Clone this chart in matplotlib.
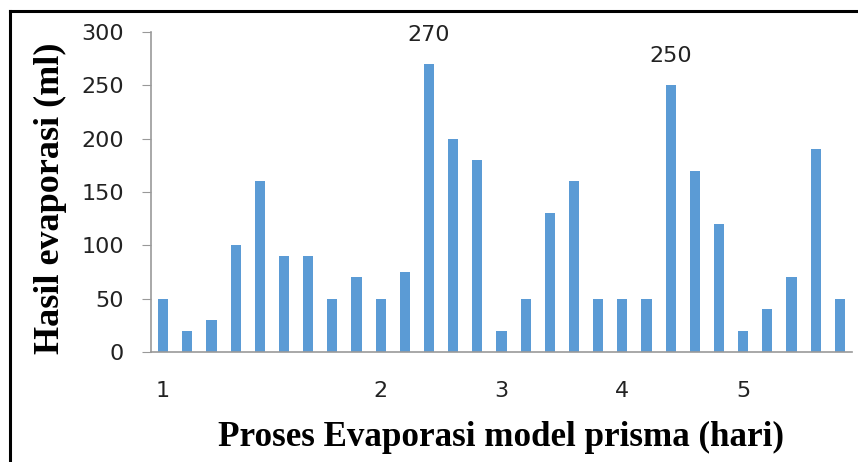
import numpy as np
import matplotlib.pyplot as plt
from matplotlib.lines import Line2D

values = [50, 20, 30, 100, 160, 90, 90, 50, 70, 50, 75, 270, 200, 180, 20,
          50, 130, 160, 50, 50, 50, 250, 170, 120, 20, 40, 70, 190, 50]
day_ticks = [0, 9, 14, 19, 24]
day_labels = ["1", "2", "3", "4", "5"]
labelled = {11: "270", 21: "250"}

fig = plt.figure(figsize=(8.58, 4.62), dpi=100)
ax = fig.add_axes([151 / 858, 110 / 462, 701 / 858, 320 / 462])

x = np.arange(len(values))
ax.bar(x, values, width=0.42, color="#5B9BD5")

for i, txt in labelled.items():
    ax.annotate(txt, (x[i], values[i]), xytext=(0, 21), textcoords="offset points",
                ha="center", va="center", fontsize=16, color="#222222")

ax.set_xlim(-0.5, len(values) - 0.5)
ax.set_ylim(0, 300)
ax.set_yticks(range(0, 301, 50))
ax.set_xticks(day_ticks, day_labels)

ax.tick_params(axis="y", length=6.5, color="#999999", pad=13, labelsize=16, labelcolor="#222222")
ax.tick_params(axis="x", length=0, pad=21, labelsize=16, labelcolor="#222222")

for side in ["top", "right"]:
    ax.spines[side].set_visible(False)
for side in ["left", "bottom"]:
    ax.spines[side].set_color("#999999")
    ax.spines[side].set_linewidth(1.2)

fig.text(501 / 858, 1 - 437 / 462, "Proses Evaporasi model prisma (hari)",
         ha="center", va="center", fontsize=25.2, fontweight="bold", family="Liberation Serif")
fig.text(50 / 858, 1 - 198 / 462, "Hasil evaporasi (ml)", rotation=90,
         ha="center", va="center", fontsize=26, fontweight="bold", family="Liberation Serif")

# frame around the picture (only top and left edges visible)
fig.add_artist(Line2D([9.5 / 858, 1], [1 - 11 / 462, 1 - 11 / 462], color="black", lw=2.2))
fig.add_artist(Line2D([9.5 / 858, 9.5 / 858], [0, 1 - 11 / 462], color="black", lw=2.2))

fig.savefig("out.png", dpi=100)
plt.close(fig)
